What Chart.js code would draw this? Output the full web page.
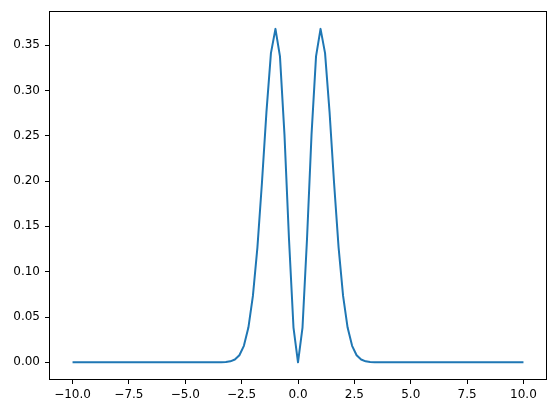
<!DOCTYPE html>
<html>
<head>
<meta charset="utf-8">
<script src="https://cdn.jsdelivr.net/npm/chart.js@4"></script>
<style>
  body { margin: 0; background: #fff; }
  canvas { display: block; }
</style>
</head>
<body>
<canvas id="myChart" width="556" height="413"></canvas>
<script>
const xValues = [
  -10.0, -9.8, -9.6, -9.4, -9.2, -9.0, -8.8, -8.6, -8.4, -8.2,
  -8.0, -7.8, -7.6, -7.4, -7.2, -7.0, -6.8, -6.6, -6.4, -6.2,
  -6.0, -5.8, -5.6, -5.4, -5.2, -5.0, -4.8, -4.6, -4.4, -4.2,
  -4.0, -3.8, -3.6, -3.4, -3.2, -3.0, -2.8, -2.6, -2.4, -2.2,
  -2.0, -1.8, -1.6, -1.4, -1.2, -1.0, -0.8, -0.6, -0.4, -0.2,
  0.0, 0.2, 0.4, 0.6, 0.8, 1.0, 1.2, 1.4, 1.6, 1.8,
  2.0, 2.2, 2.4, 2.6, 2.8, 3.0, 3.2, 3.4, 3.6, 3.8,
  4.0, 4.2, 4.4, 4.6, 4.8, 5.0, 5.2, 5.4, 5.6, 5.8,
  6.0, 6.2, 6.4, 6.6, 6.8, 7.0, 7.2, 7.4, 7.6, 7.8,
  8.0, 8.2, 8.4, 8.6, 8.8, 9.0, 9.2, 9.4, 9.6, 9.8,
  10.0
];
const yValues = [
  0, 0, 0, 0, 0, 0, 0, 0, 0, 0,
  0, 0, 0, 0, 0, 0, 0, 0, 0, 0,
  0, 0, 0, 0, 0, 0, 0, 0, 0, 0,
  0, 0, 0, 0.0001, 0.0004, 0.0011, 0.0031, 0.0078, 0.0182, 0.0383,
  0.0733, 0.1269, 0.1979, 0.2761, 0.3412, 0.3679, 0.3375, 0.2512, 0.1363, 0.0384,
  0, 0.0384, 0.1363, 0.2512, 0.3375, 0.3679, 0.3412, 0.2761, 0.1979, 0.1269,
  0.0733, 0.0383, 0.0182, 0.0078, 0.0031, 0.0011, 0.0004, 0.0001, 0, 0,
  0, 0, 0, 0, 0, 0, 0, 0, 0, 0,
  0, 0, 0, 0, 0, 0, 0, 0, 0, 0,
  0, 0, 0, 0, 0, 0, 0, 0, 0, 0,
  0
];
const xTicks = [-10, -7.5, -5, -2.5, 0, 2.5, 5, 7.5, 10];
const yTicks = [0, 0.05, 0.1, 0.15, 0.2, 0.25, 0.3, 0.35];

const points = xValues.map((x, i) => ({ x: x, y: yValues[i] }));
const minus = (s) => s.replace('-', '\u2212');

// box around the plot area, like the matplotlib spines
const frame = {
  id: 'frame',
  afterDraw(chart) {
    const a = chart.chartArea;
    const ctx = chart.ctx;
    ctx.save();
    ctx.strokeStyle = '#000';
    ctx.lineWidth = 1;
    ctx.strokeRect(Math.round(a.left) - 0.5, Math.round(a.top) - 0.5,
      Math.round(a.right - a.left) + 1, Math.round(a.bottom - a.top) + 1);
    ctx.restore();
  }
};

Chart.defaults.font.family = "'DejaVu Sans', sans-serif";
Chart.defaults.font.size = 12;
Chart.defaults.color = '#000';

new Chart(document.getElementById('myChart'), {
  type: 'line',
  data: {
    datasets: [{
      data: points,
      borderColor: '#1f77b4',
      borderWidth: 2,
      borderJoinStyle: 'round',
      borderCapStyle: 'butt',
      pointRadius: 0,
      tension: 0,
      fill: false
    }]
  },
  options: {
    responsive: false,
    animation: false,
    layout: { padding: { top: 10, right: 10, left: 0, bottom: 0 } },
    plugins: { legend: { display: false }, tooltip: { enabled: false } },
    scales: {
      x: {
        type: 'linear',
        min: -11,
        max: 11,
        afterBuildTicks: (scale) => { scale.ticks = xTicks.map(v => ({ value: v })); },
        afterFit: (scale) => { scale.height = 34; },
        grid: { drawOnChartArea: false, drawTicks: true, tickLength: 5, color: '#000' },
        border: { display: false },
        ticks: {
          padding: 4,
          maxRotation: 0,
          autoSkip: false,
          callback: (v) => minus(Number(v).toFixed(1))
        }
      },
      y: {
        min: -0.0184,
        max: 0.3863,
        afterBuildTicks: (scale) => { scale.ticks = yTicks.map(v => ({ value: v })); },
        afterFit: (scale) => { scale.width = 50; },
        grid: { drawOnChartArea: false, drawTicks: true, tickLength: 5, color: '#000' },
        border: { display: false },
        ticks: {
          padding: 5,
          autoSkip: false,
          callback: (v) => minus(Number(v).toFixed(2))
        }
      }
    }
  },
  plugins: [frame]
});
</script>
</body>
</html>
